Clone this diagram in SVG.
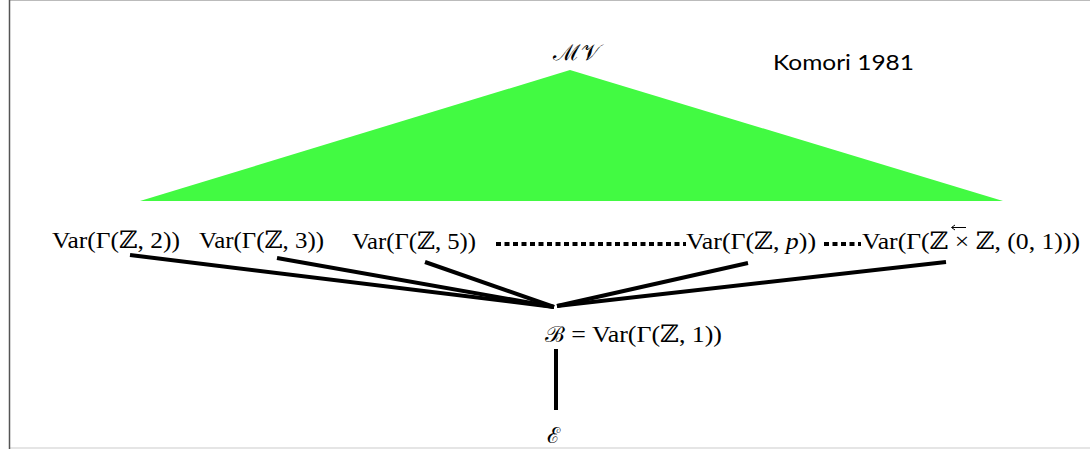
<svg xmlns="http://www.w3.org/2000/svg" width="1090" height="449" viewBox="0 0 1090 449">
<style>
.m{font-family:"Liberation Serif","DejaVu Serif",serif;font-size:24px;fill:#000}
.cal{font-family:"DejaVu Serif","Noto Sans",serif;font-size:22px;fill:#000}
.k{font-family:Lato,"Liberation Sans",sans-serif;font-size:21px;fill:#000}
.e{stroke:#000;stroke-width:4;fill:none}
.dot{stroke:#000;stroke-width:4;stroke-dasharray:5 3.5;fill:none}
</style>
<rect x="0" y="0" width="1090" height="449" fill="#fff"/>
<line x1="10" y1="0.5" x2="1090" y2="0.5" stroke="#bbb" stroke-width="1"/>
<line x1="10" y1="448" x2="1090" y2="448" stroke="#ddd" stroke-width="1.5"/>
<line x1="9.5" y1="0" x2="9.5" y2="449" stroke="#555" stroke-width="1.5"/>
<g id="lattice">
<polygon points="570,70 1003,201 140,201" fill="#42fa42"/>
</g>
<g id="mv"><text class="cal" x="553" y="60" textLength="47" lengthAdjust="spacingAndGlyphs">ℳ𝒱</text></g>
<g id="komori"><text class="k" x="773" y="70" textLength="141" lengthAdjust="spacingAndGlyphs">Komori 1981</text></g>
<g id="connectors">
<line class="e" x1="130" y1="255" x2="554" y2="307"/>
<line class="e" x1="277" y1="258" x2="554" y2="307"/>
<line class="e" x1="425" y1="262" x2="554" y2="307"/>
<line class="e" x1="748" y1="263" x2="557" y2="306"/>
<line class="e" x1="946" y1="262" x2="557" y2="306"/>
<line class="e" x1="556" y1="349" x2="556" y2="410"/>
<line class="dot" x1="496" y1="244" x2="686" y2="244"/>
<line class="dot" x1="824" y1="244" x2="861" y2="244"/>
</g>
<g id="n2"><text class="m" x="52" y="248" textLength="128" lengthAdjust="spacingAndGlyphs">Var(Γ(ℤ, 2))</text></g>
<g id="n3"><text class="m" x="199" y="248" textLength="125" lengthAdjust="spacingAndGlyphs">Var(Γ(ℤ, 3))</text></g>
<g id="n5"><text class="m" x="352" y="249" textLength="124" lengthAdjust="spacingAndGlyphs">Var(Γ(ℤ, 5))</text></g>
<g id="np"><text class="m" x="686" y="249" textLength="130" lengthAdjust="spacingAndGlyphs">Var(Γ(ℤ, <tspan font-style="italic">p</tspan>))</text></g>
<g id="nlex"><text class="m" x="862" y="249" textLength="218" lengthAdjust="spacingAndGlyphs">Var(Γ(ℤ × ℤ, (0, 1)))</text>
<path d="M966,227.5 H952 M955,225 L951.5,227.5 L955,230" stroke="#000" stroke-width="1" fill="none"/></g>
<g id="b"><text class="m" x="545" y="342" textLength="177" lengthAdjust="spacingAndGlyphs"><tspan class="cal" font-size="22">ℬ</tspan> = Var(Γ(ℤ, 1))</text></g>
<g id="e"><text class="cal" x="547" y="443">ℰ</text></g>
</svg>
